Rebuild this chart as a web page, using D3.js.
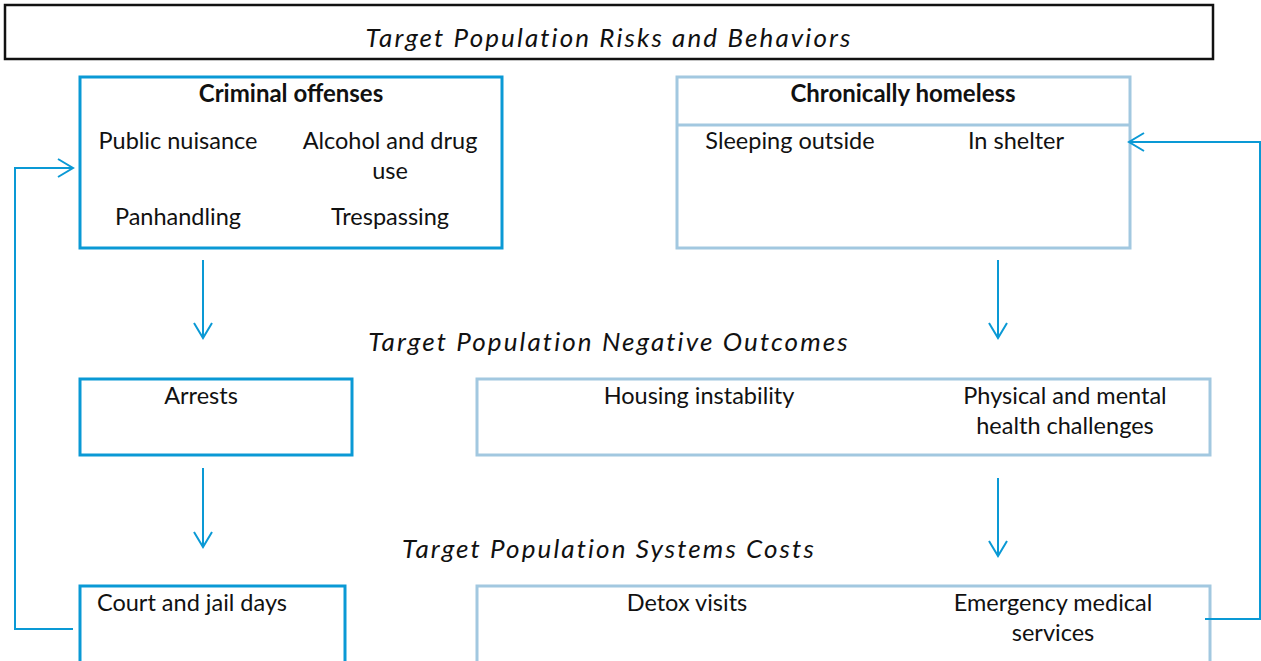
<!DOCTYPE html>
<html>
<head>
<meta charset="utf-8">
<script src="https://cdn.jsdelivr.net/npm/d3@7"></script>
<style>
  body { margin: 0; background: #fff; }
  svg { display: block; font-family: Lato, "Open Sans", sans-serif; }
</style>
</head>
<body>
<div id="chart"></div>
<script>
// section headings
var headings = ["Target Population Risks and Behaviors", "Target Population Negative Outcomes", "Target Population Systems Costs"];

// box titles and items (each item may wrap to two lines)
var leftTitle = "Criminal offenses";
var leftItems = [["Public nuisance"], ["Alcohol and drug", "use"], ["Panhandling"], ["Trespassing"]];
var rightTitle = "Chronically homeless";
var rightItems = [["Sleeping outside"], ["In shelter"]];
var outcomeLeft = [["Arrests"]];
var outcomeRight = [["Housing instability"], ["Physical and mental", "health challenges"]];
var costLeft = [["Court and jail days"]];
var costRight = [["Detox visits"], ["Emergency medical", "services"]];

var W = 1261, H = 661;
var dark = "#0a99d5", light = "#a2c8e0";

var svg = d3.select("#chart").append("svg")
    .attr("width", W)
    .attr("height", H);

// arrow marker (open chevron)
var defs = svg.append("defs");
defs.append("marker")
    .attr("id", "chev")
    .attr("viewBox", "0 0 20 20")
    .attr("refX", 18).attr("refY", 10)
    .attr("markerWidth", 20).attr("markerHeight", 20)
    .attr("markerUnits", "userSpaceOnUse")
    .attr("orient", "auto")
    .append("path")
    .attr("d", "M3,1 L18,10 L3,19")
    .attr("fill", "none")
    .attr("stroke", dark)
    .attr("stroke-width", 2);

function box(x, y, w, h, color, sw) {
    svg.append("rect")
        .attr("x", x).attr("y", y)
        .attr("width", w).attr("height", h)
        .attr("fill", "none")
        .attr("stroke", color)
        .attr("stroke-width", sw);
}

function label(lines, cx, y, opts) {
    opts = opts || {};
    var t = svg.append("text")
        .attr("text-anchor", "middle")
        .attr("font-size", opts.bold ? 24 : 23.5)
        .attr("font-weight", opts.bold ? 700 : 400)
        .attr("fill", "#111");
    lines.forEach(function (l, i) {
        t.append("tspan").attr("x", cx).attr("y", y + i * 29.5).text(l);
    });
}

function heading(text, y) {
    svg.append("text")
        .attr("x", 609).attr("y", y)
        .attr("text-anchor", "middle")
        .attr("font-size", 26)
        .attr("font-style", "italic")
        .attr("letter-spacing", 2.1)
        .attr("fill", "#111")
        .text(text);
}

function arrow(points) {
    svg.append("path")
        .attr("d", d3.line()(points))
        .attr("fill", "none")
        .attr("stroke", dark)
        .attr("stroke-width", 2)
        .attr("marker-end", "url(#chev)");
}

// title band
svg.append("rect")
    .attr("x", 5).attr("y", 5).attr("width", 1208).attr("height", 54)
    .attr("fill", "none").attr("stroke", "#111").attr("stroke-width", 2.5);
heading(headings[0], 47);

// row 1
box(80, 77, 422, 171, dark, 3);
label([leftTitle], 291, 102, { bold: true });
var lx = [178, 390];
leftItems.forEach(function (it, i) {
    label(it, lx[i % 2], i < 2 ? 149 : 225);
});

box(677, 77, 453, 171, light, 3);
svg.append("line").attr("x1", 677).attr("x2", 1130).attr("y1", 125).attr("y2", 125)
    .attr("stroke", light).attr("stroke-width", 3);
label([rightTitle], 903, 102, { bold: true });
var rx = [790, 1016];
rightItems.forEach(function (it, i) { label(it, rx[i], 149); });

arrow([[203, 260], [203, 338]]);
arrow([[998, 260], [998, 338]]);

heading(headings[1], 351);

// row 2
box(80, 379, 272, 76, dark, 3);
label(outcomeLeft[0], 201, 404);
box(477, 379, 733, 76, light, 3);
var ox = [699, 1065];
outcomeRight.forEach(function (it, i) { label(it, ox[i], 404); });

arrow([[203, 468], [203, 547]]);
arrow([[998, 478], [998, 556]]);

heading(headings[2], 558);

// row 3
box(80, 586, 265, 100, dark, 3);
label(costLeft[0], 192, 611);
box(477, 586, 733, 100, light, 3);
var cx = [687, 1053];
costRight.forEach(function (it, i) { label(it, cx[i], 611); });

// feedback loops
arrow([[73, 629], [15, 629], [15, 168], [73, 168]]);
arrow([[1205, 619], [1260, 619], [1260, 142], [1129, 142]]);
</script>
</body>
</html>
